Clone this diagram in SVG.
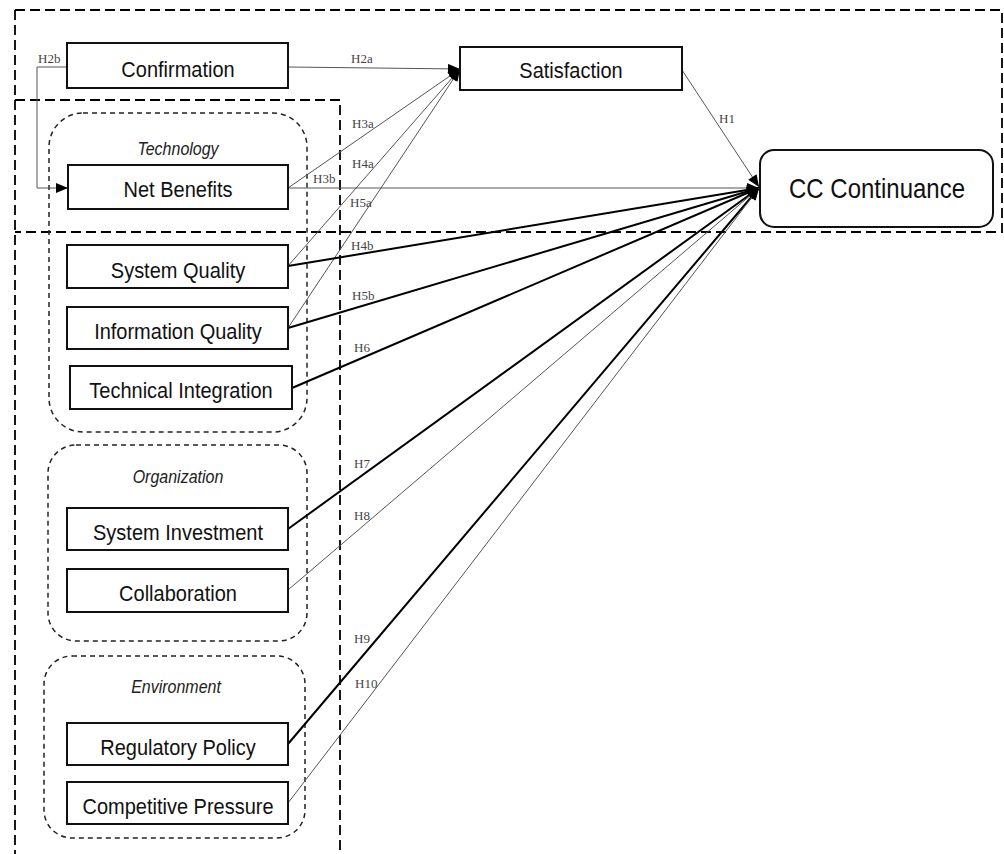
<svg xmlns="http://www.w3.org/2000/svg" width="1004" height="854" viewBox="0 0 1004 854">
<style>
.bg{fill:#fff}
.frame{fill:none;stroke:#000;stroke-width:1.8;stroke-dasharray:10 5}
.grp{fill:none;stroke:#222;stroke-width:1.5;stroke-dasharray:5 4}
.box{fill:#fff;stroke:#111;stroke-width:2}
.t{font-family:"Liberation Sans",Arial,sans-serif;font-size:20px;fill:#111;text-anchor:middle}
.big{font-size:24px}
.gt{font-family:"Liberation Sans",Arial,sans-serif;font-size:16px;font-style:italic;fill:#222;text-anchor:middle}
.h{font-family:"Liberation Serif","Times New Roman",serif;font-size:13px;fill:#444}
.thin{fill:none;stroke:#555;stroke-width:1}
.thick{fill:none;stroke:#000;stroke-width:2}
</style>
<defs>
<marker id="arr" viewBox="0 0 12 10" refX="12" refY="5" markerWidth="13" markerHeight="10" markerUnits="userSpaceOnUse" orient="auto"><path d="M0,0 L12,5 L0,10 z" fill="#000"/></marker>
</defs>
<rect class="bg" x="0" y="0" width="1004" height="854"/>
<g id="frames">
<path class="frame" d="M15,10 H1002 V232 H15 M15,10 V854"/>
<path class="frame" d="M15,100 H340 V854"/>
</g>
<g id="groups">
<g id="grp-technology"><rect class="grp" x="49" y="113" width="258" height="319" rx="34"/><text class="gt" transform="translate(178,155) scale(1,1.12)">Technology</text></g>
<g id="grp-organization"><rect class="grp" x="48" y="445" width="259" height="196" rx="28"/><text class="gt" transform="translate(178,483) scale(1,1.12)">Organization</text></g>
<g id="grp-environment"><rect class="grp" x="44" y="656" width="261" height="182" rx="28"/><text class="gt" transform="translate(176,693) scale(1,1.12)">Environment</text></g>
</g>
<g id="connectors">
<path class="thin" d="M67,67 H37 V188 H68" marker-end="url(#arr)"/>
<path class="thin" d="M288,67 L460,69" marker-end="url(#arr)"/>
<path class="thin" d="M288,188 L460,69" marker-end="url(#arr)"/>
<path class="thin" d="M288,266 L460,69" marker-end="url(#arr)"/>
<path class="thin" d="M288,328 L460,69" marker-end="url(#arr)"/>
<path class="thin" d="M682,70 L759,187" marker-end="url(#arr)"/>
<path class="thin" d="M288,188 L759,188" marker-end="url(#arr)"/>
<path class="thick" d="M288,266 L759,188" marker-end="url(#arr)"/>
<path class="thick" d="M288,328 L759,188" marker-end="url(#arr)"/>
<path class="thick" d="M292,388 L759,188" marker-end="url(#arr)"/>
<path class="thick" d="M288,529 L759,188" marker-end="url(#arr)"/>
<path class="thin" d="M288,590 L759,188" marker-end="url(#arr)"/>
<path class="thick" d="M288,744 L759,188" marker-end="url(#arr)"/>
<path class="thin" d="M288,803 L759,188" marker-end="url(#arr)"/>
<text class="h" x="38" y="63">H2b</text>
<text class="h" x="351" y="63">H2a</text>
<text class="h" x="352" y="128">H3a</text>
<text class="h" x="313" y="183">H3b</text>
<text class="h" x="352" y="168">H4a</text>
<text class="h" x="350" y="207">H5a</text>
<text class="h" x="719" y="123">H1</text>
<text class="h" x="351" y="250">H4b</text>
<text class="h" x="352" y="300">H5b</text>
<text class="h" x="354" y="352">H6</text>
<text class="h" x="354" y="468">H7</text>
<text class="h" x="354" y="520">H8</text>
<text class="h" x="354" y="643">H9</text>
<text class="h" x="355" y="688">H10</text>
</g>
<g id="confirmation"><rect class="box" x="67" y="43" width="221" height="45"/><text class="t" transform="translate(178,77) scale(1,1.12)">Confirmation</text></g>
<g id="satisfaction"><rect class="box" x="460" y="47" width="222" height="43"/><text class="t" transform="translate(571,78) scale(1,1.12)">Satisfaction</text></g>
<g id="cc-continuance"><rect class="box" x="760" y="150" width="233" height="77" rx="14"/><text class="t big" transform="translate(877,198) scale(1,1.12)">CC Continuance</text></g>
<g id="net-benefits"><rect class="box" x="68" y="165" width="220" height="44"/><text class="t" transform="translate(178,197) scale(1,1.12)">Net Benefits</text></g>
<g id="system-quality"><rect class="box" x="67" y="245" width="221" height="43"/><text class="t" transform="translate(178,278) scale(1,1.12)">System Quality</text></g>
<g id="information-quality"><rect class="box" x="67" y="307" width="221" height="42"/><text class="t" transform="translate(178,339) scale(1,1.12)">Information Quality</text></g>
<g id="technical-integration"><rect class="box" x="70" y="366" width="222" height="43"/><text class="t" transform="translate(181,398) scale(1,1.12)">Technical Integration</text></g>
<g id="system-investment"><rect class="box" x="67" y="508" width="221" height="42"/><text class="t" transform="translate(178,540) scale(1,1.12)">System Investment</text></g>
<g id="collaboration"><rect class="box" x="67" y="569" width="221" height="43"/><text class="t" transform="translate(178,601) scale(1,1.12)">Collaboration</text></g>
<g id="regulatory-policy"><rect class="box" x="67" y="723" width="221" height="42"/><text class="t" transform="translate(178,755) scale(1,1.12)">Regulatory Policy</text></g>
<g id="competitive-pressure"><rect class="box" x="67" y="782" width="221" height="42"/><text class="t" transform="translate(178,814) scale(1,1.12)">Competitive Pressure</text></g>
</svg>
